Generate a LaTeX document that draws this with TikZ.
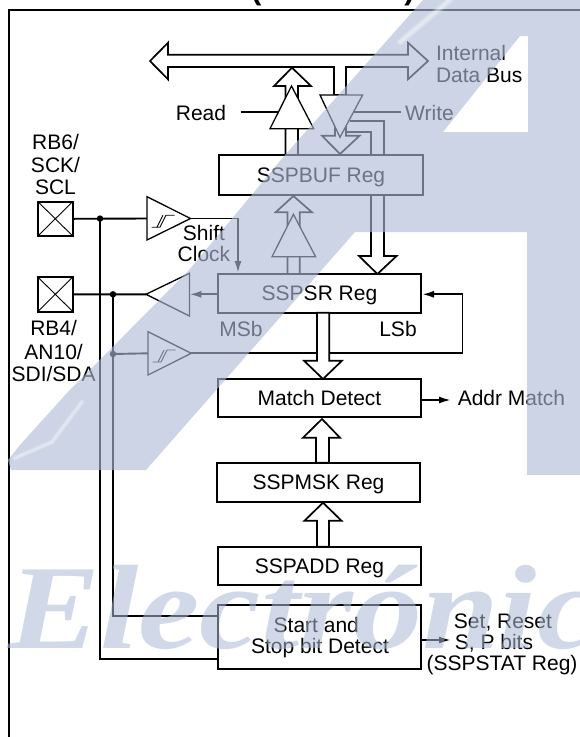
\documentclass[tikz,border=0pt]{standalone}
\usepackage{fontspec}
\setmainfont{Liberation Sans}
\newfontfamily\wmfont{Liberation Serif}
\usetikzlibrary{arrows.meta,calc}
\definecolor{wmc}{rgb}{0.68,0.73,0.84}
\tikzset{
  box/.style={draw,line width=2pt,rectangle,inner sep=0pt,font=\fontsize{21}{23}\selectfont,text height=15pt,text depth=0pt},
  lab/.style={inner sep=0pt,font=\fontsize{21}{23}\selectfont,text height=15pt,text depth=0pt},
  wire/.style={line width=1.9pt},
  thin wire/.style={line width=1.9pt,-{Latex[length=12pt,width=7pt]}},
  hollow/.style={draw,fill=white,line width=1.7pt,line join=miter},
  tri/.style={draw,fill=white,line width=1.3pt,line join=miter},
  pin/.style={draw,line width=1.9pt,minimum width=35pt,minimum height=34.5pt,inner sep=0pt,
    path picture={\draw[line width=.9pt] (path picture bounding box.north west)--(path picture bounding box.south east)
      (path picture bounding box.north east)--(path picture bounding box.south west);}},
  dot/.style={circle,fill=black,inner sep=0pt,minimum size=6.5pt},
  wmark/.style={fill=wmc,fill opacity=.62,draw=none}
}
\newcommand{\schmitt}[1]{%
  \draw[line width=.9pt] ($(#1)+(4.7,8.7)$)--($(#1)+(13,8.7)$)--($(#1)+(19,-3.3)$)--($(#1)+(27.6,-3.3)$)
    ($(#1)+(10,8.7)$)--($(#1)+(16,-3.3)$);}
\begin{document}
\begin{tikzpicture}[x=1pt,y=-1pt]
\useasboundingbox (0,0) rectangle (580,737);
\clip (0,0) rectangle (580,737);
\fill[white] (0,0) rectangle (580,737);
% clipped title
\node[anchor=base,inner sep=0pt,font=\fontsize{31}{31}\selectfont\bfseries] (title) at (333,-1) {(I²C MODE)};
% frame
\coordinate (fa) at (9,737); \coordinate (fb) at (9,10); \coordinate (fc) at (580,10);
\draw[line width=2pt] (fa)--(fb)--(fc);
% registers
\node[box,minimum width=204pt,minimum height=40pt] (buf) at (321,175) {SSPBUF Reg};
\node[box,minimum width=203pt,minimum height=38.7pt] (sr) at (319.5,293.4) {SSPSR Reg};
\node[box,minimum width=203pt,minimum height=38.3pt] (match) at (319.5,398.2) {Match Detect};
\node[box,minimum width=203pt,minimum height=39pt] (msk) at (318.5,482.2) {SSPMSK Reg};
\node[box,minimum width=203pt,minimum height=38.3pt] (add) at (319.5,565.8) {SSPADD Reg};
\node[box,minimum width=203pt,minimum height=63.7pt] (start) at (319.5,636.8) {};
\node[lab] (st1) at (316.3,625.3) {Start and};
\node[lab] (st2) at (320,645.7) {Stop bit Detect};
% pins
\node[pin] (p6) at (55.3,218.8) {};
\node[pin] (p4) at (55.3,294.3) {};
\node[lab] at (55.5,141.7) (l61) {RB6/};
\node[lab] at (55.5,165) (l62) {SCK/};
\node[lab] at (55.5,187.3) (l63) {SCL};
\node[lab] at (53.6,328.3) (l41) {RB4/};
\node[lab] at (53.6,351.7) (l42) {AN10/};
\node[lab] at (53.6,374) (l43) {SDI/SDA};
% buffers (coordinates)
\coordinate (s1l) at (147,218.5); \coordinate (s1t) at (190.5,218.5);
\coordinate (s2l) at (148,353.3); \coordinate (s2t) at (191.3,353.3);
\coordinate (dbt) at (146,294.3); \coordinate (dbb) at (189.4,294.3);
% wires
\node[dot] (d1) at (100,218.6) {};
\node[dot] (d2) at (113,294.3) {};
\node[dot] (d3) at (113,354) {};
\coordinate (v1) at (100,659.3);
\coordinate (v2) at (113,616);
\coordinate (clk) at (238,218.5);
\coordinate (fb1) at (462.5,294.3); \coordinate (fb2) at (462.5,353.3);
\draw[wire] (p6.east)--(s1l) (p4.east)--(dbt);
\draw[wire] (d1.center)--(v1)--(v1-|start.west);
\draw[wire] (d2.center)--(v2)--(v2-|start.west);
\draw[wire] (d3.center)--(s2l);
\draw[thin wire] (s1t)--(clk)--(clk|-sr.north);
\draw[thin wire] (sr.west|-dbb)--(dbb);
\draw[thin wire] (s2t)--(fb2)--(fb1)--(sr.east|-fb1);
\coordinate (am) at (451,400);\coordinate (sm) at (451,640);
\draw[thin wire] (match.east|-am)--(am);
\draw[thin wire] (start.east|-sm)--(sm);
% hollow arrows
\draw[hollow] (150,61)--(168,42.7)--(168,54.7)--(408,54.7)--(408,42.7)--(428,61)--(408,79.3)--(408,67)--(346,67)--(346,95)--(334,95)--(334,67)--(168,67)--(168,79.3)--cycle;
% read path
\draw[hollow] (292,67.7)--(311,86)--(298,86)--(298,155)--(285.5,155)--(285.5,86)--(274,86)--cycle;
\coordinate (rd) at (240.5,112); \coordinate (wr) at (401,112);
\draw[wire] (rd)--(280,112) (wr)--(350,112);
\draw[tri] (291.5,86)--(313.7,128.7)--(270,128.7)--cycle;
% write path
\draw[wire] (349.6,120.7)--(384,120.7)--(384,155) (346,132.3)--(371,132.3)--(371,155);
\draw[hollow] (335,125)--(346,125)--(346,135.7)--(359.6,135.7)--(340,154)--(322,135.7)--(335,135.7)--cycle;
\draw[tri] (320,95)--(362.6,95)--(340,137.3)--cycle;
% below SSPBUF
\draw[hollow] (293.4,196)--(312,212.3)--(299.7,212.3)--(299.7,274)--(287.5,274)--(287.5,212.3)--(275.6,212.3)--cycle;
\draw[tri] (293.4,214.3)--(315.6,256.7)--(272,256.7)--cycle;
\draw[hollow] (371,195)--(384,195)--(384,256)--(396.6,256)--(377.4,274)--(359,256)--(371,256)--cycle;
% schmitt & driver
\draw[tri] (147,196.7)--(s1t)--(147,240)--cycle;
\schmitt{s1l}
\draw[tri] (148,331.7)--(s2t)--(148,375)--cycle;
\schmitt{s2l}
\draw[tri] (dbt)--(189.4,273.3)--(189.4,316)--cycle;
% vertical hollow arrows
\draw[hollow] (317,312.7)--(329.3,312.7)--(329.3,360.7)--(342,360.7)--(323,379)--(304,360.7)--(317,360.7)--cycle;
\draw[hollow] (322,419)--(340,437.7)--(329,437.7)--(329,462.7)--(316,462.7)--(316,437.7)--(303,437.7)--cycle;
\draw[hollow] (323,502.7)--(341.5,520.7)--(329,520.7)--(329,546.7)--(317,546.7)--(317,520.7)--(304.5,520.7)--cycle;
% labels
\node[lab] (rdl) at (201,112.7) {Read};
\node[lab,anchor=west] (wrl) at (405,112.7) {Write};
\node[lab,anchor=west] (ib1) at (435.8,52.7) {Internal};
\node[lab,anchor=west] (ib2) at (435.8,75) {Data Bus};
\node[lab] (sc1) at (204,233) {Shift};
\node[lab] (sc2) at (204,254) {Clock};
\node[lab] (msb) at (241,329.3) {MSb};
\node[lab] (lsb) at (398,329.3) {LSb};
\node[lab,anchor=west] (aml) at (457.6,398) {Addr Match};
\node[lab] (set1) at (503,621) {Set, Reset};
\node[lab] (set2) at (494,642) {S, P bits};
\node[lab] (set3) at (502,663) {(SSPSTAT Reg)};
% watermark
\path[wmark,even odd rule]
  (423,0)--(285,155)--(189,270)--(67,393)--(20,445)--(8,460)--(11,470)--(146,470)--(355,232)--(527,232)--(527,475)--(580,475)--(580,0)--cycle
  (443,132)--(520,36)--(528,36)--(528,132)--cycle;
\draw[white,opacity=.2,line width=7pt,line cap=round] (450,0)--(400,42);
\draw[white,opacity=.35,line width=3.5pt,line cap=round] (450,0)--(400,42);
\draw[white,opacity=.2,line width=5pt,line cap=round] (82,402)--(52,442)--(15,458);
\draw[white,opacity=.3,line width=2.5pt,line cap=round] (82,402)--(52,442)--(15,458);
\node[anchor=base west,inner sep=0pt,xscale=1.15,transform shape,text=wmc,text opacity=.55,
  font=\fontsize{120}{120}\selectfont\wmfont\bfseries\itshape] (wmt) at (8,648) {Electrónica};
\end{tikzpicture}
\end{document}
